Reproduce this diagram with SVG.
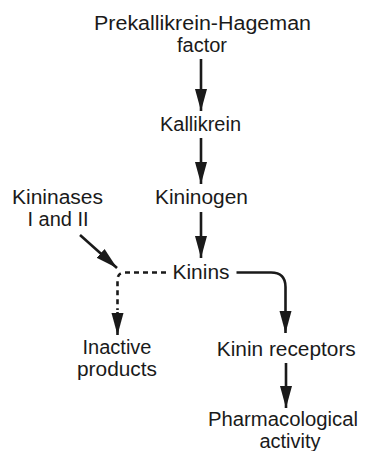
<svg xmlns="http://www.w3.org/2000/svg" width="367" height="451" viewBox="0 0 367 451">
<style>
text{font-family:"Liberation Sans",Arial,Helvetica,sans-serif;font-size:20px;fill:#1a1a1a;text-anchor:middle}
.ln{fill:none;stroke:#1a1a1a;stroke-width:2.6}
.dash{stroke-dasharray:5 4}
</style>
<defs>
<marker id="ah" markerUnits="userSpaceOnUse" markerWidth="24" markerHeight="14" viewBox="0 0 24 14" refX="22" refY="7" orient="auto">
<path d="M0,1 L22,7 L0,13 Z" fill="#1a1a1a"/>
</marker>
</defs>
<rect width="367" height="451" fill="#fff"/>
<g id="prekallikrein"><text x="202.5" y="30" textLength="217" lengthAdjust="spacingAndGlyphs">Prekallikrein-Hageman</text><text x="202" y="51.5">factor</text></g>
<g id="kallikrein"><text x="200.5" y="130.5" textLength="81" lengthAdjust="spacingAndGlyphs">Kallikrein</text></g>
<g id="kininogen"><text x="201.5" y="204" textLength="93" lengthAdjust="spacingAndGlyphs">Kininogen</text></g>
<g id="kininases"><text x="57.5" y="204" textLength="91" lengthAdjust="spacingAndGlyphs">Kininases</text><text x="58" y="226">I and II</text></g>
<g id="kinins"><text x="201" y="279" textLength="57" lengthAdjust="spacingAndGlyphs">Kinins</text></g>
<g id="inactive"><text x="117" y="354" textLength="69" lengthAdjust="spacingAndGlyphs">Inactive</text><text x="117" y="376" textLength="80" lengthAdjust="spacingAndGlyphs">products</text></g>
<g id="receptors"><text x="286.3" y="356" textLength="139" lengthAdjust="spacingAndGlyphs">Kinin receptors</text></g>
<g id="activity"><text x="283" y="426" textLength="150" lengthAdjust="spacingAndGlyphs">Pharmacological</text><text x="290" y="448">activity</text></g>
<g id="connectors">
<path class="ln" d="M201,59 V111" marker-end="url(#ah)"/>
<path class="ln" d="M201,138 V184" marker-end="url(#ah)"/>
<path class="ln" d="M201,212 V258" marker-end="url(#ah)"/>
<path class="ln" d="M80,235 L117,268" marker-end="url(#ah)"/>
<path class="ln" d="M236.5,272.5 H271 Q285.5,272.5 285.5,287 V333" marker-end="url(#ah)"/>
<path class="ln dash" d="M166,272.5 H125 Q117.5,272.5 117.5,280 V310"/>
<path class="ln" d="M117.5,312 V335" marker-end="url(#ah)"/>
<path class="ln" d="M286,363 V408" marker-end="url(#ah)"/>
</g>
</svg>
